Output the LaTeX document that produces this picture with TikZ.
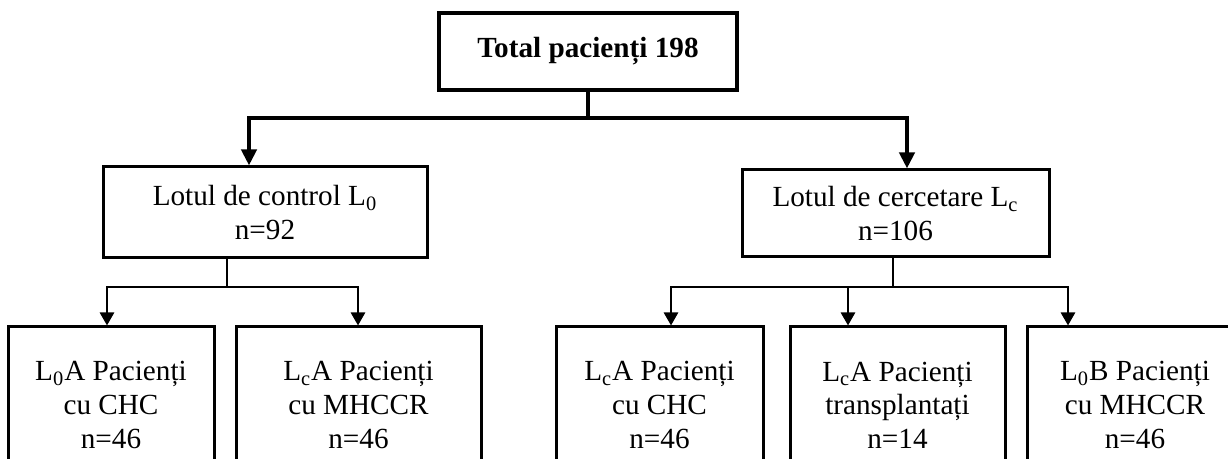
\documentclass[tikz,border=0pt]{standalone}
\usepackage{fontspec}
\setmainfont{Liberation Serif}
\usetikzlibrary{arrows.meta}
\tikzset{
  box/.style={draw, line width=1.5pt, inner sep=0pt, align=center,
    font=\fontsize{14.6}{16.8}\selectfont},
  topbox/.style={box, line width=2pt, font=\fontsize{14.6}{16.8}\selectfont\bfseries},
  bigline/.style={line width=2pt, -{Triangle[width=7.5pt,length=8pt]}},
  smallline/.style={line width=1.3pt, -{Triangle[width=7pt,length=6.5pt]}},
}
\begin{document}
\begin{tikzpicture}[x=0.5pt,y=-0.5pt]
\useasboundingbox (0,0) rectangle (1228,459);
\clip (0,0) rectangle (1228,459);
% nodes
\node[topbox, minimum width=149pt, minimum height=38.5pt] (top) at (588,51.5) {Total pacienți 198};
\node[box, minimum width=162pt, minimum height=45.5pt] (lm) at (265,212.5) {Lotul de control L\textsubscript{0}\\n=92};
\node[box, minimum width=153.5pt, minimum height=43.5pt] (rm) at (895.5,213.5) {Lotul de cercetare L\textsubscript{c}\\n=106};
\node[box, minimum width=103pt, minimum height=78pt] (b1) at (111,405) {L\textsubscript{0}A Pacienți\\cu CHC\\n=46};
\node[box, minimum width=122.5pt, minimum height=78pt] (b2) at (358.5,405) {L\textsubscript{c}A Pacienți\\cu MHCCR\\n=46};
\node[box, minimum width=103.5pt, minimum height=78pt] (b3) at (659.5,405) {L\textsubscript{c}A Pacienți\\cu CHC\\n=46};
\node[box, minimum width=107.5pt, minimum height=78pt] (b4) at (897.5,405) {L\textsubscript{c}A Pacienți\\transplantați\\n=14};
\node[box, minimum width=108pt, minimum height=78pt] (b5) at (1135,405) {L\textsubscript{0}B Pacienți\\cu MHCCR\\n=46};
% junction coordinates
\coordinate (j0) at (588,118);
\coordinate (ta) at (249,0);
\coordinate (tb) at (907,0);
\coordinate (jl) at (227,287);
\coordinate (jr) at (893,287);
\coordinate (x1) at (107,0);
\coordinate (x2) at (358,0);
\coordinate (x3) at (671,0);
\coordinate (x4) at (848,0);
\coordinate (x5) at (1068,0);
% top connectors
\draw[line width=2pt] (top.south) -- (j0 -| top.south);
\draw[bigline] (j0 -| top.south) -| (ta |- lm.north);
\draw[bigline] (j0 -| top.south) -| (tb |- rm.north);
% left group
\draw[line width=1.3pt] (jl |- lm.south) -- (jl);
\draw[smallline] (jl) -| (x1 |- b1.north);
\draw[smallline] (jl) -| (x2 |- b2.north);
% right group
\draw[line width=1.3pt] (jr |- rm.south) -- (jr);
\draw[smallline] (jr) -| (x3 |- b3.north);
\draw[smallline] (jr) -| (x4 |- b4.north);
\draw[smallline] (jr) -| (x5 |- b5.north);
\end{tikzpicture}
\end{document}
